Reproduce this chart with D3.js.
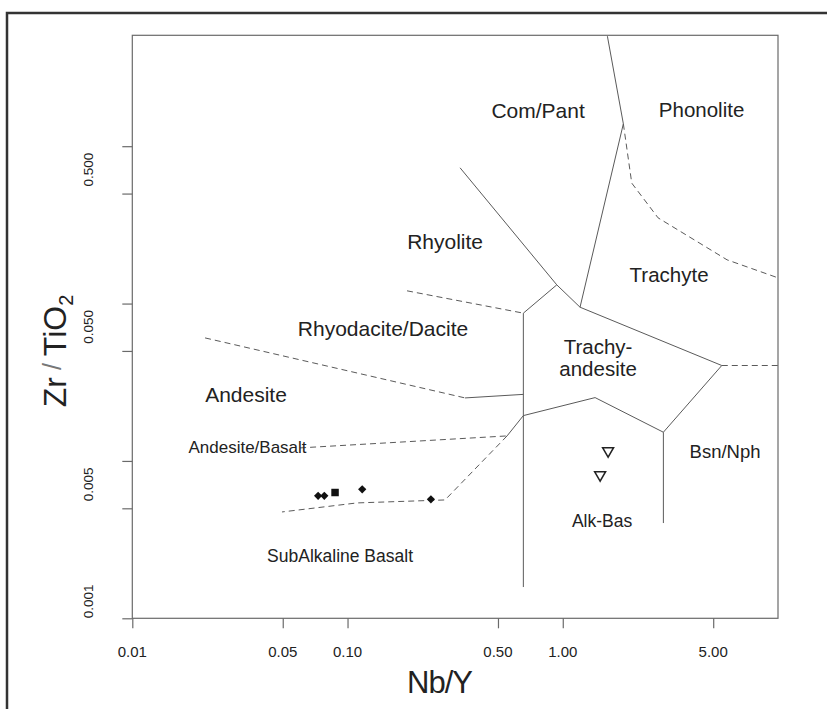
<!DOCTYPE html>
<html>
<head>
<meta charset="utf-8">
<script src="https://cdn.jsdelivr.net/npm/d3@7"></script>
<style>
  body { margin: 0; background: #fff; }
  svg text { font-family: "Liberation Sans", Arial, sans-serif; fill: #222; }
</style>
</head>
<body>
<div class="chart"></div>
<script>
var svgWidth = 827;
var svgHeight = 709;

// Axis ticks
var xTicks = [0.01, 0.05, 0.1, 0.5, 1, 5];
var xTickLabels = ["0.01", "0.05", "0.10", "0.50", "1.00", "5.00"];
var yTicks = [0.001, 0.005, 0.01, 0.05, 0.1, 0.5, 1];
var yLabelValues = [0.001, 0.005, 0.05, 0.5];
var yTickLabels = ["0.001", "0.005", "0.050", "0.500"];

// Field boundaries [Nb/Y, Zr/TiO2]
var solidLines = [
  [[1.612, 5], [1.912, 1.388], [1.203, 0.0948]],
  [[0.3333, 0.729], [0.938, 0.1315], [1.203, 0.0948], [5.48, 0.0404], [2.934, 0.01522], [2.934, 0.00403]],
  [[0.938, 0.1315], [0.656, 0.0869], [0.656, 0.00158]],
  [[0.656, 0.01941], [1.413, 0.02526], [2.934, 0.01522]],
  [[0.3516, 0.02514], [0.656, 0.02648]],
  [[0.656, 0.01941], [0.551, 0.01442]]
];
var dashedLines = [
  [[1.912, 1.388], [2.092, 0.5825], [2.772, 0.3505], [5.80, 0.1896], [10, 0.1457]],
  [[5.48, 0.0404], [10, 0.0404]],
  [[0.189, 0.1205], [0.656, 0.0869]],
  [[0.02178, 0.0605], [0.3516, 0.02514]],
  [[0.0602, 0.0121], [0.551, 0.01442]],
  [[0.551, 0.01442], [0.2838, 0.00565], [0.1107, 0.00541], [0.0496, 0.00474]]
];

// Field names and where they sit
var fieldNames = ["Com/Pant", "Phonolite", "Rhyolite", "Trachyte", "Rhyodacite/Dacite",
  "Andesite", "Andesite/Basalt", "SubAlkaline Basalt", "Alk-Bas", "Bsn/Nph"];
var fieldNb = [0.768, 4.416, 0.284, 3.119, 0.1462, 0.03376, 0.0343, 0.0923, 1.523, 5.676];
var fieldZr = [1.516, 1.538, 0.2227, 0.1374, 0.0623, 0.0237, 0.01125, 0.00228, 0.0038, 0.01045];

// Samples
var diamondNb = [0.073, 0.078, 0.117, 0.244];
var diamondZr = [0.0060, 0.0060, 0.0066, 0.0057];
var squareNb = [0.0875];
var squareZr = [0.0063];
var triangleNb = [1.624, 1.491];
var triangleZr = [0.01158, 0.00815];

// label font sizes (the lower fields are set a little smaller)
var labelSize = {
  "Com/Pant": 21, "Phonolite": 20.5, "Rhyolite": 21, "Trachyte": 20.5,
  "Rhyodacite/Dacite": 21, "Andesite": 21, "Andesite/Basalt": 17,
  "SubAlkaline Basalt": 17.5, "Alk-Bas": 17.5, "Bsn/Nph": 18.5
};

var svg = d3.select(".chart")
  .append("svg")
  .attr("width", svgWidth)
  .attr("height", svgHeight);

// outer frame
svg.append("rect")
  .attr("x", 7)
  .attr("y", 13)
  .attr("width", 840)
  .attr("height", 720)
  .attr("fill", "none")
  .attr("stroke", "#333")
  .attr("stroke-width", 2.5);

// Step 1: scales
var x = d3.scaleLog().domain([0.01, 10]).range([132.3, 778]);
var y = d3.scaleLog().domain([0.001, 5]).range([618.3, 36.2]);

// Step 2: box and axes
var boxColor = "#6a6a6a";
svg.append("rect")
  .attr("x", x(0.01))
  .attr("y", 35.3)
  .attr("width", x(10) - x(0.01))
  .attr("height", y(0.001) - 35.3)
  .attr("fill", "none")
  .attr("stroke", boxColor)
  .attr("stroke-width", 1.2);

var bottomAxis = d3.axisBottom(x).tickValues(xTicks).tickSize(10).tickFormat("");
var leftAxis = d3.axisLeft(y).tickValues(yTicks).tickSize(10).tickFormat("");

var xAxisG = svg.append("g")
  .attr("transform", `translate(0, ${y(0.001)})`)
  .call(bottomAxis);
var yAxisG = svg.append("g")
  .attr("transform", `translate(${x(0.01)}, 0)`)
  .call(leftAxis);
[xAxisG, yAxisG].forEach(function (g) {
  g.select(".domain").remove();
  g.selectAll("line").attr("stroke", boxColor).attr("stroke-width", 1.2);
});

svg.selectAll(".xlab")
  .data(xTicks)
  .enter()
  .append("text")
  .attr("class", "xlab")
  .attr("x", function (d) { return x(d); })
  .attr("y", 657)
  .attr("text-anchor", "middle")
  .style("font-size", "15px")
  .text(function (d, i) { return xTickLabels[i]; });

svg.selectAll(".ylab")
  .data(yLabelValues)
  .enter()
  .append("text")
  .attr("class", "ylab")
  .attr("transform", function (d, i) {
    var off = i == 0 ? 17 : 24;
    return `translate(93, ${y(d) - off}) rotate(-90)`;
  })
  .attr("text-anchor", "middle")
  .style("font-size", "13.5px")
  .text(function (d, i) { return yTickLabels[i]; });

// Step 3: field boundaries
var line = d3.line()
  .x(function (d) { return x(d[0]); })
  .y(function (d) { return y(d[1]); });

svg.selectAll(".solid")
  .data(solidLines)
  .enter()
  .append("path")
  .attr("d", line)
  .attr("fill", "none")
  .attr("stroke", "#5a5a5a")
  .attr("stroke-width", 1);

svg.selectAll(".dashed")
  .data(dashedLines)
  .enter()
  .append("path")
  .attr("d", line)
  .attr("fill", "none")
  .attr("stroke", "#5a5a5a")
  .attr("stroke-width", 1)
  .attr("stroke-dasharray", "6,4");

// Step 4: field names
svg.selectAll(".field")
  .data(fieldNames)
  .enter()
  .append("text")
  .attr("x", function (d, i) { return x(fieldNb[i]); })
  .attr("y", function (d, i) { return y(fieldZr[i]); })
  .attr("text-anchor", "middle")
  .style("font-size", function (d) { return labelSize[d] + "px"; })
  .text(function (d) { return d; });

var ta = svg.append("text")
  .attr("x", x(1.459))
  .attr("y", y(0.0479))
  .attr("text-anchor", "middle")
  .style("font-size", "20.5px");
ta.append("tspan").text("Trachy-");
ta.append("tspan").attr("x", x(1.459)).attr("dy", 22).text("andesite");

// Step 5: samples
svg.selectAll(".diamond")
  .data(diamondNb)
  .enter()
  .append("path")
  .attr("transform", function (d, i) { return `translate(${x(d)}, ${y(diamondZr[i])}) rotate(45)`; })
  .attr("d", d3.symbol().type(d3.symbolSquare).size(34)())
  .attr("fill", "#111");

svg.selectAll(".square")
  .data(squareNb)
  .enter()
  .append("path")
  .attr("transform", function (d, i) { return `translate(${x(d)}, ${y(squareZr[i])})`; })
  .attr("d", d3.symbol().type(d3.symbolSquare).size(56)())
  .attr("fill", "#111");

svg.selectAll(".tri")
  .data(triangleNb)
  .enter()
  .append("path")
  .attr("transform", function (d, i) { return `translate(${x(d)}, ${y(triangleZr[i])}) rotate(180)`; })
  .attr("d", d3.symbol().type(d3.symbolTriangle).size(52)())
  .attr("fill", "none")
  .attr("stroke", "#222")
  .attr("stroke-width", 1.5);

// Step 6: axis titles
svg.append("text")
  .attr("x", 440)
  .attr("y", 693)
  .attr("text-anchor", "middle")
  .style("font-size", "31px")
  .attr("textLength", 66)
  .text("Nb/Y");

var yt = svg.append("text")
  .attr("transform", "translate(66, 351) rotate(-90)")
  .attr("text-anchor", "middle")
  .style("font-size", "32px");
yt.append("tspan").text("Zr");
yt.append("tspan").attr("dx", 7).attr("dy", -5).style("font-size", "25px").style("fill", "#777").text("/");
yt.append("tspan").attr("dx", 7).attr("dy", 5).text("TiO");
yt.append("tspan").attr("dy", 7).style("font-size", "20px").text("2");
</script>
</body>
</html>
